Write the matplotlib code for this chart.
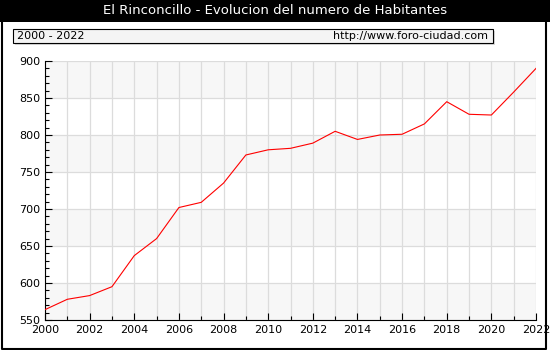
import matplotlib
matplotlib.use("Agg")
import matplotlib.pyplot as plt
from matplotlib.patches import Rectangle
from matplotlib.lines import Line2D

# population per year
years = list(range(2000, 2023))
habitantes = [564, 578, 583, 595, 637, 660, 702, 709, 735, 773, 780, 782,
              789, 805, 794, 800, 801, 815, 845, 828, 827, 858, 890]

title = "El Rinconcillo - Evolucion del numero de Habitantes"
periodo = "2000 - 2022"
web = "http://www.foro-ciudad.com"

fig = plt.figure(figsize=(5.5, 3.5), dpi=100)
W, H = 550, 350

# black title bar
fig.patches.append(Rectangle((0, 1 - 22 / H), 1, 22 / H, transform=fig.transFigure,
                             facecolor="black", edgecolor="none"))
fig.text(0.5, 1 - 11 / H, title, color="white", ha="center", va="center", fontsize=9.5)

# subtitle box with shadow
fig.patches.append(Rectangle((15 / W, 1 - 45 / H), 480 / W, 14 / H, transform=fig.transFigure,
                             facecolor="#d8d8d8", edgecolor="none"))
fig.patches.append(Rectangle((13 / W, 1 - 43 / H), 480 / W, 14 / H, transform=fig.transFigure,
                             facecolor="#f4f4f4", edgecolor="black", linewidth=0.8))
fig.text(17 / W, 1 - 36 / H, periodo, ha="left", va="center", fontsize=8)
fig.text(488 / W, 1 - 36 / H, web, ha="right", va="center", fontsize=8)

ax = fig.add_axes([45 / W, 30 / H, 491 / W, 259 / H])
ax.set_xlim(2000, 2022)
ax.set_ylim(550, 900)

# alternating bands
for lo in range(550, 900, 100):
    ax.axhspan(lo, lo + 50, facecolor="#f7f7f7", edgecolor="none", zorder=0)

ax.set_xticks(range(2000, 2023, 2))
ax.set_xticks(years, minor=True)
ax.set_yticks(range(550, 901, 50))
ax.set_yticks(range(550, 901, 10), minor=True)
ax.grid(True, which="major", color="#dcdcdc", linewidth=0.9, zorder=1)
ax.grid(True, which="minor", axis="x", color="#dcdcdc", linewidth=0.9, zorder=1)
ax.tick_params(direction="in", labelsize=8, length=5, width=0.8)
ax.tick_params(which="minor", direction="in", length=3, width=0.8)
ax.tick_params(axis="y", which="minor", left=True)

ax.plot(years, habitantes, color="red", linewidth=0.8, zorder=3)

for s in ["top", "right"]:
    ax.spines[s].set_visible(False)

# outer frame (left, bottom, right)
fx = [1.5 / W, 1.5 / W, 546 / W, 546 / W]
fy = [1 - 22 / H, 1.5 / H, 1.5 / H, 1 - 22 / H]
fig.lines.append(Line2D(fx, fy, transform=fig.transFigure, color="black", linewidth=1.5))

fig.savefig("out.png", dpi=100)
